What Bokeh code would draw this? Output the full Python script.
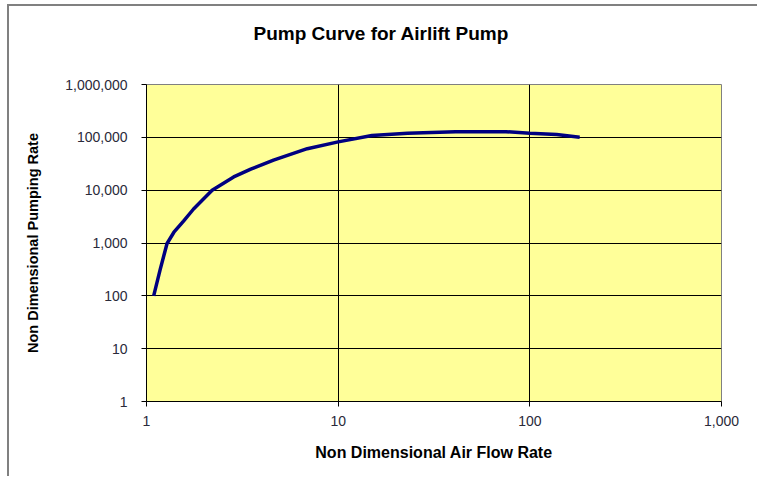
from bokeh.plotting import figure
from bokeh.models import FixedTicker, NumeralTickFormatter, Range1d
from bokeh.embed import file_html
from bokeh.resources import INLINE

# Data
air_flow = [1.09, 1.18, 1.28, 1.39, 1.56, 1.76, 2.2, 2.85, 3.5, 4.6, 6.9, 10, 15, 23, 41, 75, 100, 138, 182]
pumping = [100, 320, 980, 1600, 2600, 4400, 10000, 17800, 25000, 37000, 61000, 82000, 108000,
           120000, 128000, 128000, 120000, 113000, 100000]
x_ticks = [1, 10, 100, 1000]
y_ticks = [1, 10, 100, 1000, 10000, 100000, 1000000]
title_text = "Pump Curve for Airlift Pump"

FONT = "Liberation Sans"

p = figure(width=750, height=472, x_axis_type="log", y_axis_type="log",
           x_range=Range1d(1, 1000), y_range=Range1d(1, 1000000),
           output_backend="svg", toolbar_location=None,
           min_border_left=137, min_border_right=38, min_border_top=78, min_border_bottom=77,
           background_fill_color="#FFFF99", border_fill_color="white",
           title=title_text + "\n")
p.styles = {"border-left": "2px solid #808080", "border-top": "2px solid #808080",
            "margin-left": "7px", "margin-top": "4px"}

# the empty second line acts as a spacer, lifting the title well above the frame
p.title.text_font = FONT
p.title.text_font_size = "19px"
p.title.text_font_style = "bold"
p.title.text_color = "black"
p.title.text_line_height = 1.7
p.title.align = "left"
p.title.offset = 107
p.title.vertical_align = "bottom"
p.title.standoff = 10

p.outline_line_color = "#808080"
p.outline_line_width = 1

for ax in (p.xaxis[0], p.yaxis[0]):
    ax.axis_line_color = "black"
    ax.major_tick_line_color = "black"
    ax.major_tick_out = 5
    ax.major_tick_in = 0
    ax.minor_tick_line_color = None
    ax.formatter = NumeralTickFormatter(format="0,0")
    ax.major_label_text_font = FONT
    ax.major_label_text_font_size = "14px"
    ax.major_label_text_color = "#2a2a3a"
    ax.axis_label_text_font = FONT
    ax.axis_label_text_font_style = "bold"
    ax.axis_label_text_color = "black"

p.xaxis[0].axis_label_text_font_size = "16px"
p.yaxis[0].axis_label_text_font_size = "14.5px"
p.xaxis[0].ticker = FixedTicker(ticks=x_ticks)
p.yaxis[0].ticker = FixedTicker(ticks=y_ticks)
p.xaxis[0].axis_label = "Non Dimensional Air Flow Rate"
p.yaxis[0].axis_label = "Non Dimensional Pumping Rate"
p.xaxis[0].major_label_standoff = 9
p.yaxis[0].major_label_standoff = 14
p.xaxis[0].axis_label_standoff = 15
p.yaxis[0].axis_label_standoff = 21

p.xgrid.ticker = FixedTicker(ticks=x_ticks)
p.ygrid.ticker = FixedTicker(ticks=y_ticks)
for g in (p.xgrid[0], p.ygrid[0]):
    g.grid_line_color = "black"
    g.grid_line_width = 1
    g.minor_grid_line_color = None

p.line(air_flow, pumping, line_color="#000080", line_width=3.5)

open("out.html", "w").write(file_html(p, INLINE))
